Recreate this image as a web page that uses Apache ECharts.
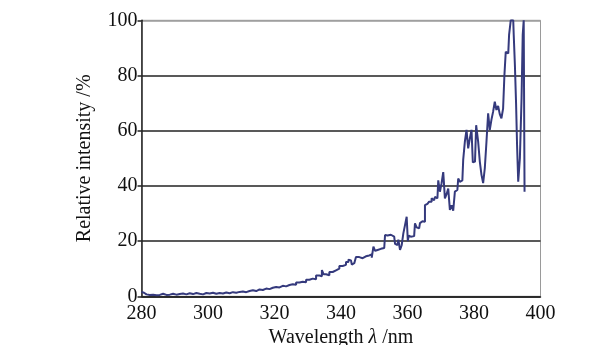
<!DOCTYPE html>
<html>
<head>
<meta charset="utf-8">
<script src="https://cdn.jsdelivr.net/npm/echarts@6/dist/echarts.min.js"></script>
<style>html,body{margin:0;padding:0;background:#fff}#c{width:616px;height:345px}</style>
</head>
<body>
<div id="c"></div>
<script>
var wavelengths = [280.0,280.5,281,282,283,284,285,286,287,288,289,290,291,292,293,294,295,296,297,298,299,300,301,302,303,304,305,306,307,308,309,310,311,312,313,314,315,316,317,318,319,320,321,322,323,324,325,326,327,328,329,330,331,332,333,334,334.5,335,336,337,338,339,340,341,342,342.5,343,343.5,344,345,346,347,348,349,349.5,350,350.5,351,352,353,353.5,354,355,356,356.5,357,357.5,358,358.5,359,359.5,360,360.2,360.5,361,362,362.5,363,363.5,364,364.5,365,365.5,366,367,367.5,368,368.5,369,369.5,370,370.5,371,371.5,372,372.5,373,373.5,374,374.5,375,375.5,376,376.5,377,377.5,378,378.5,379,379.5,379.8,380.3,381,381.5,382,382.5,383,383.5,384,384.5,385,385.5,386,386.5,387,387.5,388,388.5,389,389.3,389.8,390.3,390.8,391.3,391.8,392.1,392.5,392.8,393.1,393.5,394.1,394.5,394.8,395.1,395.3];
var intensity = [1.6,1.3,0.7,0.5,0.6,0.4,0.5,0.9,0.5,0.6,0.9,0.6,0.8,1.0,0.7,1.1,0.8,1.2,0.9,0.7,1.2,1.0,1.3,0.9,1.2,1.0,1.4,1.1,1.5,1.3,1.6,1.7,1.5,1.9,2.2,1.9,2.5,2.3,2.8,2.6,3.1,3.4,3.2,3.8,3.6,4.1,4.4,4.2,5.0,5.3,5.1,6.0,6.4,6.2,7.5,7.3,9.5,8.0,7.6,8.8,9.4,10.0,11.0,11.4,12.4,13.3,13.0,11.5,12.0,14.2,13.8,14.5,14.8,15.2,14.0,18.0,16.5,16.8,17.2,17.5,22.2,22.0,22.3,21.6,19.0,18.6,20.5,16.8,18.5,22.8,25.8,28.8,20.0,22.0,21.6,21.8,26.4,25.0,24.6,26.5,27.2,27.0,33.0,33.5,34.3,35.5,34.8,36.0,35.5,42.0,37.9,41.0,45.0,35.5,37.0,39.0,31.3,33.0,31.0,37.9,38.5,42.7,41.5,42.0,49.4,56.0,60.3,53.6,57.2,60.3,48.5,48.8,62.0,56.0,48.8,44.0,41.0,46.4,56.0,66.3,60.3,64.0,66.9,70.5,67.5,69.0,66.0,64.5,68.0,80.2,88.6,88.0,94.7,100,100,94.7,83.8,70,54.8,41.5,50.0,71.7,94.7,100,37.9];
var yTicks = [0,20,40,60,80,100];
var xTicks = [280,300,320,340,360,380,400];

var data = wavelengths.map(function(w,i){return [w,intensity[i]];});
var font = '"Liberation Serif","DejaVu Serif",serif';
var chart = echarts.init(document.getElementById('c'), null, {renderer:'canvas'});
chart.setOption({
  animation:false,
  backgroundColor:'#fff',
  grid:{left:141.5,right:75.5,top:20.3,bottom:48.7,containLabel:false,outerBoundsMode:'none',show:true,borderColor:'#9a9a9a',borderWidth:1,backgroundColor:'transparent'},
  xAxis:{
    type:'value',min:xTicks[0],max:xTicks[xTicks.length-1],interval:20,
    axisLine:{show:true,onZero:false,lineStyle:{color:'#222',width:1.5}},
    axisTick:{show:false},
    splitLine:{show:false},
    axisLabel:{color:'#111',fontFamily:font,fontSize:20,margin:7},
    name:'Wavelength {i|λ} /nm',nameLocation:'middle',nameGap:30,
    nameTextStyle:{color:'#111',fontFamily:font,fontSize:20,rich:{i:{fontStyle:'italic',fontFamily:font,fontSize:20,color:'#111'}}}
  },
  yAxis:{
    type:'value',min:yTicks[0],max:yTicks[yTicks.length-1],interval:20,
    axisLine:{show:true,lineStyle:{color:'#222',width:1.5}},
    axisTick:{show:true,inside:false,length:4,lineStyle:{color:'#222',width:1.5}},
    splitLine:{show:true,lineStyle:{color:['#222','#222','#222','#222','#222','#9a9a9a'],width:1.5}},
    axisLabel:{color:'#111',fontFamily:font,fontSize:20,margin:4},
    name:'Relative intensity /%',nameLocation:'middle',nameGap:47,nameRotate:90,
    nameTextStyle:{color:'#111',fontFamily:font,fontSize:20}
  },
  series:[{
    type:'line',data:data,step:'middle',symbol:'none',
    lineStyle:{color:'#353a7d',width:2},
    clip:true
  }]
});
</script>
</body>
</html>
